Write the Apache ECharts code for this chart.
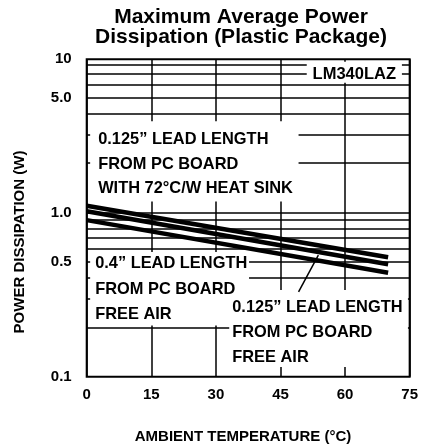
<!DOCTYPE html>
<html><head><meta charset="utf-8">
<script src="https://cdn.jsdelivr.net/npm/echarts@6/dist/echarts.min.js"></script>
<style>html,body{margin:0;padding:0;background:#fff}#c{width:421px;height:446px}</style>
</head><body><div id="c"></div>
<script>
// ---- data ----
const titleText = 'Maximum Average Power\nDissipation (Plastic Package)';
const xName = 'AMBIENT TEMPERATURE (°C)';
const yName = 'POWER DISSIPATION (W)';
const xTicks = [0, 15, 30, 45, 60, 75];
const yTickValues = [8.6, 5, 1, 0.5, 0.1];
const yTickLabels = ['10', '5.0', '1.0', '0.5', '0.1'];
const gridValues = [8, 7, 6, 5, 4, 3, 2, 1, 0.9, 0.8, 0.7, 0.6, 0.5, 0.4, 0.3, 0.2];
const heatSink = [[0, 1.10], [70, 0.535]];
const lead0125 = [[0, 1.02], [70, 0.485]];
const lead04 = [[0, 0.90], [70, 0.43]];
const noteHeat = '0.125” LEAD LENGTH\nFROM PC BOARD\nWITH 72°C/W HEAT SINK';
const noteLead04 = '0.4” LEAD LENGTH\nFROM PC BOARD\nFREE AIR';
const noteLead0125 = '0.125” LEAD LENGTH\nFROM PC BOARD\nFREE AIR';
const partName = 'LM340LAZ';

const FONT = '"Liberation Sans", Arial, sans-serif';
const chart = echarts.init(document.getElementById('c'));
const txt = {color: '#000', fontWeight: 'bold', fontFamily: FONT};

chart.setOption({
  animation: false,
  backgroundColor: '#fff',
  title: {
    text: titleText, left: 241, top: 7, textAlign: 'center', padding: 0,
    textStyle: Object.assign({}, txt, {fontSize: 21, lineHeight: 20})
  },
  graphic: [
    {type: 'text', x: 243, y: 437, silent: true,
     style: {text: xName, align: 'center', verticalAlign: 'middle', fill: '#000',
             fontSize: 15, fontWeight: 'bold', fontFamily: FONT}},
    {type: 'text', x: 20, y: 242, rotation: Math.PI / 2, silent: true,
     style: {text: yName, align: 'center', verticalAlign: 'middle', fill: '#000',
             fontSize: 15, fontWeight: 'bold', fontFamily: FONT}}
  ],
  grid: {left: 86.7, right: 9.3, top: 59.3, bottom: 69.3, show: true,
         borderColor: '#000', borderWidth: 2, backgroundColor: 'transparent'},
  xAxis: {
    type: 'value', min: 0, max: 75, interval: 15,
    axisLine: {show: false}, axisTick: {show: false},
    axisLabel: Object.assign({}, txt, {fontSize: 15, margin: 11}),
    splitLine: {show: true, lineStyle: {color: '#000', width: 1.5}}
  },
  yAxis: {
    type: 'log', logBase: 10, min: 0.1, max: 8.6,
    axisLine: {show: false}, axisTick: {show: false},
    splitLine: {show: false}, minorSplitLine: {show: false},
    axisLabel: Object.assign({}, txt, {fontSize: 15, margin: 15,
      customValues: yTickValues,
      formatter: function (v) {
        let best = 0, d = Infinity;
        yTickValues.forEach((t, i) => { const e = Math.abs(Math.log(t) - Math.log(v)); if (e < d) { d = e; best = i; } });
        return yTickLabels[best];
      }})
  },
  series: [
    {
      type: 'line', data: [], z: 1, silent: true,
      markLine: {
        z: 2, silent: true, symbol: 'none', animation: false,
        label: {show: false},
        lineStyle: {color: '#000', width: 1.5, type: 'solid'},
        data: gridValues.map(v => ({yAxis: v}))
      }
    },
    {
      type: 'line', data: [], z: 2, silent: true,
      markArea: {
        z: 10, silent: true, animation: false,
        itemStyle: {color: '#fff', borderWidth: 0},
        label: Object.assign({}, txt, {show: true, fontSize: 16.4, position: 'insideTopLeft', distance: 0}),
        data: [
          [{name: noteHeat, coord: [0.8, 3.6], label: {offset: [8, 6], lineHeight: 24.5}}, {coord: [49.2, 1.17]}],
          [{name: noteLead04, coord: [0.8, 0.576], label: {offset: [5, -1], lineHeight: 25.5}}, {coord: [37.7, 0.205]}],
          [{name: noteLead0125, coord: [33.1, 0.338], label: {offset: [3, 4.5], lineHeight: 25.2}}, {coord: [74.6, 0.1147]}],
          [{name: partName, coord: [51.1, 8.3], label: {position: 'inside', fontSize: 16.5, offset: [0, 2]}}, {coord: [73.2, 6.18]}]
        ]
      }
    },
    {
      name: 'heat sink', type: 'line', data: heatSink, z: 11, symbol: 'none',
      lineStyle: {color: '#000', width: 4.5}
    },
    {
      name: '0.125 free air', type: 'line', data: lead0125, z: 11, symbol: 'none',
      lineStyle: {color: '#000', width: 4.5},
      markLine: {
        z: 12, silent: true, symbol: 'none', animation: false, label: {show: false},
        lineStyle: {color: '#000', width: 1.5, type: 'solid'},
        data: [[{coord: [49.2, 0.3285]}, {coord: [53.8, 0.55]}]]
      }
    },
    {
      name: '0.4 free air', type: 'line', data: lead04, z: 11, symbol: 'none',
      lineStyle: {color: '#000', width: 4.5}
    }
  ]
});
</script></body></html>
